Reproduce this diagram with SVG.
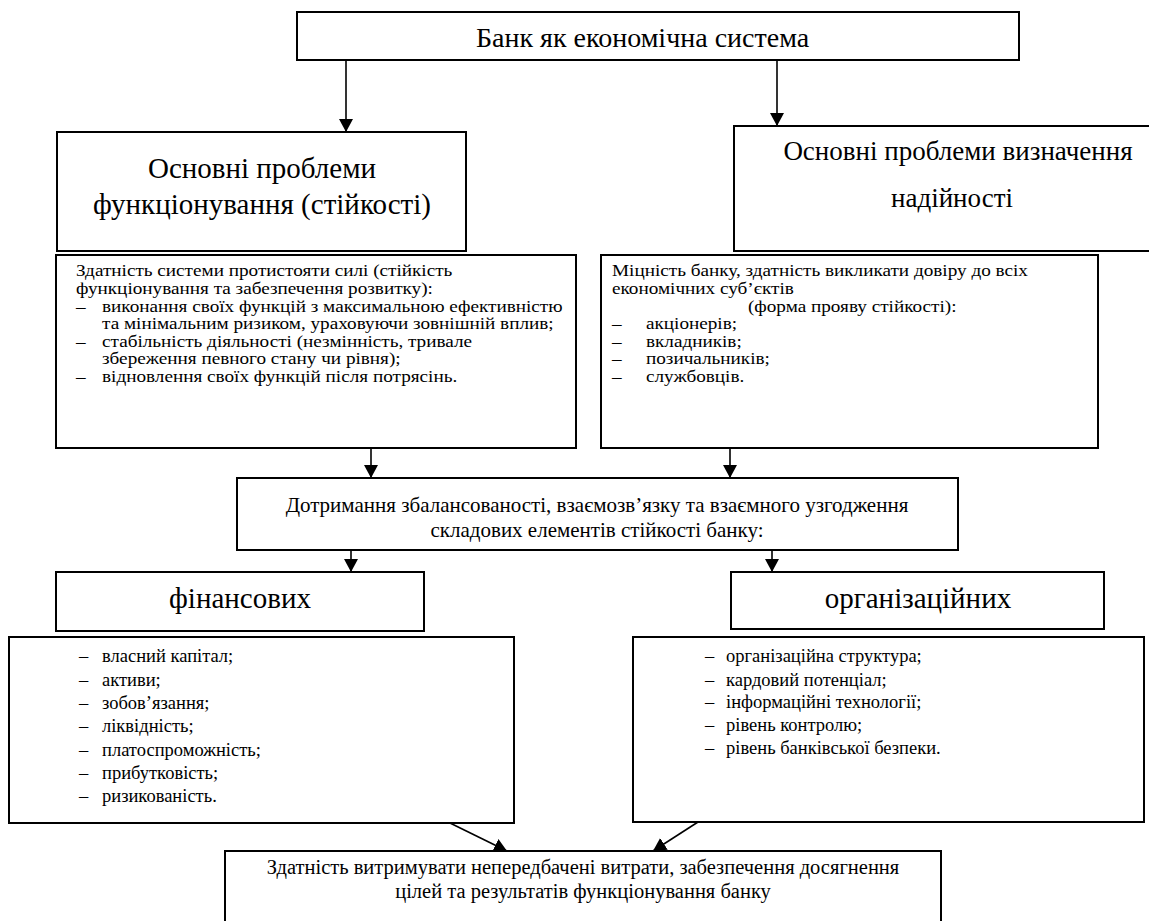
<svg xmlns="http://www.w3.org/2000/svg" width="1149" height="921" viewBox="0 0 1149 921">
<defs>
<marker id="ah" markerWidth="14" markerHeight="14" refX="13" refY="7" orient="auto" markerUnits="userSpaceOnUse">
<path d="M0,0 L13,7 L0,14 Z" fill="#000"/>
</marker>
<style>
rect{fill:#fff;stroke:#000;stroke-width:2}
text{font-family:'Liberation Serif','Times New Roman',serif;fill:#000}
.top{font-size:28px}
.ti{font-size:29px}
.tr{font-size:27px}
.d{font-size:16px}
.b{font-size:18.5px}
.m{font-size:21px}
.r{font-size:20.5px}
.c{text-anchor:middle}
line{stroke:#000;stroke-width:1.6}
</style>
</defs>
<rect width="1149" height="921" style="fill:#fff;stroke:none"/>
<g id="connectors">
<line x1="346" y1="60" x2="346" y2="132" marker-end="url(#ah)"/>
<line x1="777" y1="60" x2="777" y2="126" marker-end="url(#ah)"/>
<line x1="371" y1="448" x2="371" y2="478" marker-end="url(#ah)"/>
<line x1="730" y1="448" x2="730" y2="478" marker-end="url(#ah)"/>
<line x1="351" y1="550" x2="351" y2="572" marker-end="url(#ah)"/>
<line x1="772" y1="550" x2="772" y2="572" marker-end="url(#ah)"/>
<line x1="450" y1="823" x2="507" y2="851" marker-end="url(#ah)"/>
<line x1="698" y1="822" x2="653" y2="851" marker-end="url(#ah)"/>
</g>
<g id="n-bank">
<rect x="297" y="12" width="722" height="48"/>
<text class="top" x="476" y="47">Банк як економічна система</text>
</g>
<g id="n-func">
<rect x="57" y="132" width="409" height="119"/>
<text class="ti c" x="262" y="178">Основні проблеми</text>
<text class="ti c" x="262" y="214">функціонування (стійкості)</text>
</g>
<g id="n-nadiy">
<rect x="734" y="126" width="430" height="125"/>
<text class="tr c" x="958" y="160">Основні проблеми визначення</text>
<text class="tr c" x="952" y="207">надійності</text>
</g>
<g id="n-func-detail">
<rect x="56" y="255" width="520" height="193"/>
<g transform="matrix(1.2,0,0,1,-15.2,0)">
<text class="d" x="76" y="276">Здатність системи протистояти силі (стійкість</text>
<text class="d" x="76" y="294">функціонування та забезпечення розвитку):</text>
<text class="d" x="76" y="312">–</text><text class="d" x="97.7" y="312">виконання своїх функцій з максимальною ефективністю</text>
<text class="d" x="97.7" y="329.5">та мінімальним ризиком, ураховуючи зовнішній вплив;</text>
<text class="d" x="76" y="347">–</text><text class="d" x="97.7" y="347">стабільність діяльності (незмінність, тривале</text>
<text class="d" x="97.7" y="364.5">збереження певного стану чи рівня);</text>
<text class="d" x="76" y="382">–</text><text class="d" x="97.7" y="382">відновлення своїх функцій після потрясінь.</text>
</g>
</g>
<g id="n-nadiy-detail">
<rect x="601" y="255" width="497" height="193"/>
<g transform="matrix(1.2,0,0,1,-122.4,0)">
<text class="d" x="612" y="276">Міцність банку, здатність викликати довіру до всіх</text>
<text class="d" x="612" y="294">економічних суб’єктів</text>
<text class="d" x="725.3" y="312">(форма прояву стійкості):</text>
<text class="d" x="612" y="329.5">–</text><text class="d" x="640.3" y="329.5">акціонерів;</text>
<text class="d" x="612" y="347">–</text><text class="d" x="640.3" y="347">вкладників;</text>
<text class="d" x="612" y="364.5">–</text><text class="d" x="640.3" y="364.5">позичальників;</text>
<text class="d" x="612" y="382">–</text><text class="d" x="640.3" y="382">службовців.</text>
</g>
</g>
<g id="n-balance">
<rect x="237" y="478" width="721" height="72"/>
<text class="m c" x="597" y="512">Дотримання збалансованості, взаємозв’язку та взаємного узгодження</text>
<text class="m c" x="597" y="537">складових елементів стійкості банку:</text>
</g>
<g id="n-fin">
<rect x="56" y="572" width="368" height="59"/>
<text class="ti c" x="240" y="608">фінансових</text>
</g>
<g id="n-org">
<rect x="731" y="572" width="373" height="57"/>
<text class="ti c" x="918" y="608">організаційних</text>
</g>
<g id="n-fin-detail">
<rect x="9" y="637" width="505" height="186"/>
<text class="b" x="79" y="662">–</text><text class="b" x="102" y="662">власний капітал;</text>
<text class="b" x="79" y="686">–</text><text class="b" x="102" y="686">активи;</text>
<text class="b" x="79" y="709">–</text><text class="b" x="102" y="709">зобов’язання;</text>
<text class="b" x="79" y="732">–</text><text class="b" x="102" y="732">ліквідність;</text>
<text class="b" x="79" y="756">–</text><text class="b" x="102" y="756">платоспроможність;</text>
<text class="b" x="79" y="779">–</text><text class="b" x="102" y="779">прибутковість;</text>
<text class="b" x="79" y="802">–</text><text class="b" x="102" y="802">ризикованість.</text>
</g>
<g id="n-org-detail">
<rect x="633" y="637" width="511" height="185"/>
<text class="b" x="705" y="662">–</text><text class="b" x="726" y="662">організаційна структура;</text>
<text class="b" x="705" y="686">–</text><text class="b" x="726" y="686">кардовий потенціал;</text>
<text class="b" x="705" y="708">–</text><text class="b" x="726" y="708">інформаційні технології;</text>
<text class="b" x="705" y="731">–</text><text class="b" x="726" y="731">рівень контролю;</text>
<text class="b" x="705" y="754">–</text><text class="b" x="726" y="754">рівень банківської безпеки.</text>
</g>
<g id="n-result">
<rect x="225" y="851" width="716" height="90"/>
<text class="r c" x="583" y="874">Здатність витримувати непередбачені витрати, забезпечення досягнення</text>
<text class="r c" x="583" y="897.5">цілей та результатів функціонування банку</text>
</g>
</svg>
